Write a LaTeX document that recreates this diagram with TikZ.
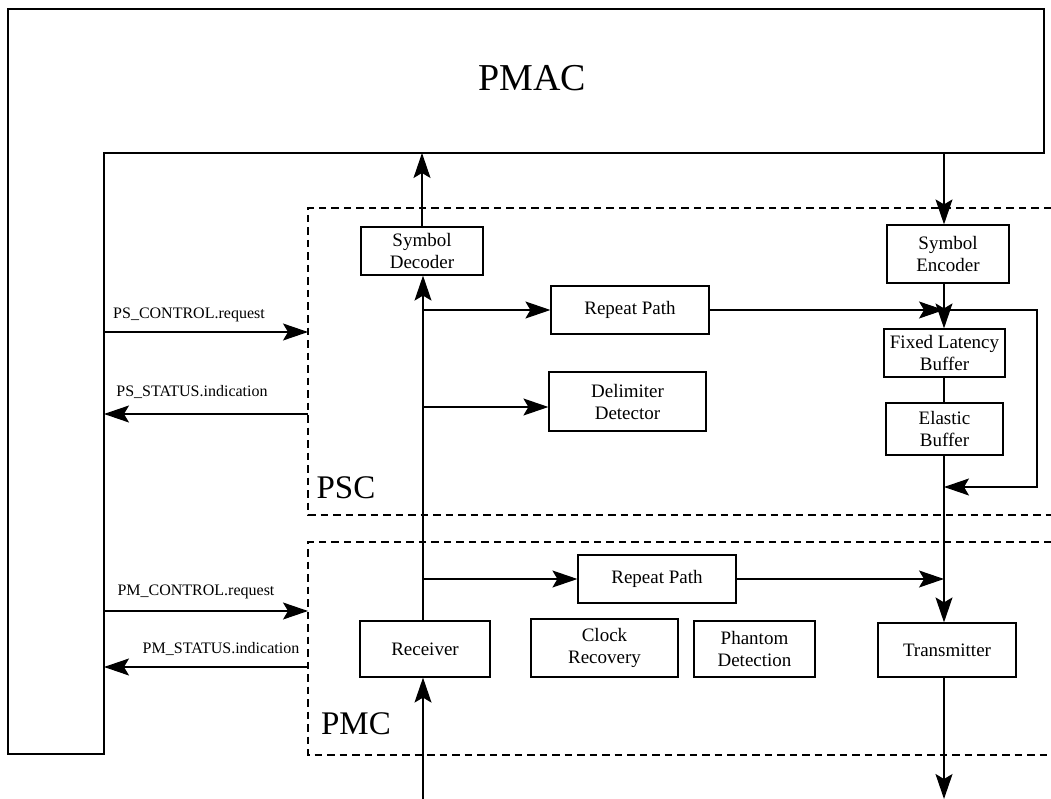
\documentclass[tikz,border=0pt]{standalone}
\usepackage{fontspec}
\setmainfont{Liberation Serif}
\usetikzlibrary{arrows.meta,calc}
\tikzset{
  blk/.style={draw, line width=1.2pt, inner sep=0pt, align=center,
              font=\fontsize{19}{22}\selectfont},
  ln/.style={line width=1.2pt},
  arr/.style={line width=1.2pt, -{Stealth[length=25pt,width=17pt,inset=5pt]}},
  grp/.style={line width=1.6pt, dash pattern=on 7.5pt off 5pt},
  sig/.style={font=\fontsize{16}{19}\selectfont, inner sep=0pt},
  big/.style={font=\fontsize{33}{38}\selectfont, inner sep=0pt},
}
\begin{document}
\begin{tikzpicture}[x=1pt,y=-1pt]
\useasboundingbox (0,0) rectangle (1051,799);

% PMAC: L-shaped outline with its title
\draw[line width=1.4pt] (8,754) -- (8,9) -- (1044,9) -- (1044,153)
      -- (104,153) -- (104,754) -- cycle;
\node[font=\fontsize{38}{44}\selectfont, inner sep=0pt] (pmac) at (532,78) {PMAC};
\coordinate (pmacB) at (0,153);   % lower edge of the top bar
\coordinate (pmacR) at (104,0);   % right edge of the left column

% sublayer groups (open to the right)
\draw[grp] (1051,208) -- (308,208) -- (308,515) -- (1051,515);
\draw[grp] (1051,542) -- (308,542) -- (308,755) -- (1051,755);
\coordinate (grpL) at (308,0);
\node[big] (psc) at (346,488) {PSC};
\node[big] (pmc) at (356,724) {PMC};

% column positions of the receive and transmit paths
\coordinate (colL) at (423,0);
\coordinate (colR) at (944,0);
\coordinate (loopX) at (1037,0);

% PSC blocks
\node[blk, minimum width=122pt, minimum height=48pt] (dec) at (422,251) {Symbol\\Decoder};
\node[blk, minimum width=158pt, minimum height=48pt] (rpA) at (630,310) {Repeat Path};
\node[blk, minimum width=157pt, minimum height=59pt] (del) at (627.5,401.5) {Delimiter\\Detector};
\node[blk, minimum width=122pt, minimum height=58pt] (enc) at (948,254) {Symbol\\Encoder};
\node[blk, minimum width=121pt, minimum height=48pt] (flb) at (944.5,353) {Fixed Latency\\Buffer};
\node[blk, minimum width=117pt, minimum height=52pt] (ela) at (944.5,429) {Elastic\\Buffer};

% PMC blocks
\node[blk, minimum width=158pt, minimum height=48pt] (rpB) at (657,579) {Repeat Path};
\node[blk, minimum width=130pt, minimum height=56pt] (rcv) at (425,649) {Receiver};
\node[blk, minimum width=147pt, minimum height=58pt] (clk) at (604.5,648) {Clock\\Recovery};
\node[blk, minimum width=121pt, minimum height=56pt] (pha) at (754.5,649) {Phantom\\Detection};
\node[blk, minimum width=138pt, minimum height=54pt] (tx) at (947,650) {Transmitter};

% service primitives between PMAC and the sublayers
\coordinate (s1) at (0,332);
\coordinate (s2) at (0,414);
\coordinate (s3) at (0,611);
\coordinate (s4) at (0,667);
\draw[arr] (pmacR |- s1) -- (grpL |- s1);
\draw[arr] (grpL |- s2) -- (pmacR |- s2);
\draw[arr] (pmacR |- s3) -- (grpL |- s3);
\draw[arr] (grpL |- s4) -- (pmacR |- s4);
\node[sig] (l1) at (189,315) {PS\_CONTROL.request};
\node[sig] (l2) at (192,392) {PS\_STATUS.indication};
\node[sig] (l3) at (196,592) {PM\_CONTROL.request};
\node[sig] (l4) at (221,649) {PM\_STATUS.indication};

% receive path
\coordinate (inL) at (423,799);
\coordinate (dY) at (0,407);
\draw[arr] (inL) -- (rcv.south -| inL);
\draw[arr] (rcv.north -| colL) -- (dec.south -| colL);
\draw[arr] (dec.north) -- (dec.north |- pmacB);
\draw[arr] (colL |- rpA.west) -- (rpA.west);
\draw[arr] (colL |- dY) -- (del.west |- dY);
\draw[arr] (colL |- rpB.west) -- (rpB.west);

% transmit path
\coordinate (outR) at (944,799);
\draw[arr] (pmacB -| colR) -- (enc.north -| colR);
\draw[arr] (enc.south -| colR) -- (flb.north -| colR);
\draw[arr] (rpA.east) -- (rpA.east -| colR);
\draw[ln] (flb.south -| colR) -- (ela.north -| colR);
\coordinate (loopB) at (0,487);
\draw[arr] (colR |- rpA.east) -- (loopX |- rpA.east) -- (loopX |- loopB) -- (colR |- loopB);
\draw[arr] (ela.south -| colR) -- (tx.north -| colR);
\draw[arr] (rpB.east) -- (rpB.east -| colR);
\draw[arr] (tx.south -| colR) -- (outR);
\end{tikzpicture}
\end{document}
